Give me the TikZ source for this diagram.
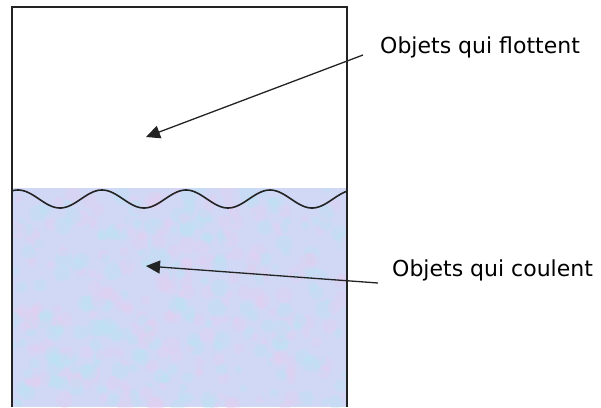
\documentclass[tikz,border=0pt]{standalone}
\usepackage{fontspec}
\setmainfont{DejaVu Sans}
\usetikzlibrary{arrows.meta, positioning}
\definecolor{eaucolor}{RGB}{208,216,246}
\definecolor{rosecolor}{RGB}{230,205,240}
\definecolor{cyancolor}{RGB}{185,228,242}
\definecolor{bordcolor}{RGB}{35,35,35}
\tikzset{
    legende/.style={anchor=west, inner sep=0pt, font=\fontsize{22}{26}\selectfont},
    fleche/.style={-{Triangle[length=14pt,width=13pt]}, line width=1.3pt, draw=bordcolor},
    paroi/.style={draw=bordcolor, line width=2pt},
    vague/.style={draw=bordcolor, line width=1.6pt},
    tache/.style={opacity=0.35}
}

\begin{document}
\begin{tikzpicture}[x=1pt, y=-1pt]

    \useasboundingbox (0,0) rectangle (601,407);

    % eau et surface
    \fill[eaucolor] (12,188) rectangle (347,407);
    \begin{scope}
        \clip (12,188) rectangle (347,407);
        \pgfmathsetseed{7}
        \foreach \i in {1,...,420}{
            \pgfmathsetmacro{\px}{12+335*rnd}
            \pgfmathsetmacro{\py}{188+219*rnd}
            \pgfmathsetmacro{\pr}{3+6*rnd}
            \pgfmathparse{rnd<0.5 ? "rosecolor" : "cyancolor"}
            \fill[\pgfmathresult, tache] (\px,\py) circle[radius=\pr];
        }
    \end{scope}
    \draw[vague, domain=12:347, samples=150, smooth] plot (\x, {199+9*cos(4.2857*(\x-60))});
    \draw[paroi] (12,407) -- (12,7) -- (347,7) -- (347,407);

    \node[legende] (flottent) at (380,47) {Objets qui flottent};
    \node[legende] (coulent) at (392,270) {Objets qui coulent};

    \coordinate (flotte) at (146,137);
    \coordinate (coule) at (146,266);

    \draw[fleche] ([shift={(-17,8)}]flottent.west) -- (flotte);
    \draw[fleche] ([shift={(-14,13)}]coulent.west) -- (coule);

\end{tikzpicture}
\end{document}
